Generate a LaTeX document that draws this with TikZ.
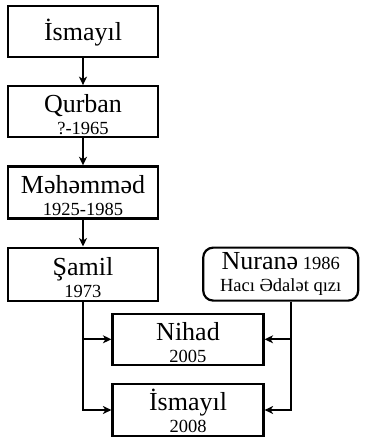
\documentclass[tikz,border=0pt]{standalone}
\usepackage{fontspec}
\setmainfont{Liberation Serif}
\usetikzlibrary{arrows.meta,positioning}

\newcommand{\pname}[1]{{\fontsize{26}{22}\selectfont\rule{0pt}{24pt}#1}}
\newcommand{\pdate}[1]{{\fontsize{18.5}{22}\selectfont #1}}

\begin{document}
\begin{tikzpicture}[
    x=1pt, y=1pt,
    node distance=27pt,
    font=\fontsize{18.5}{22}\selectfont,
    person/.style={rectangle, draw, line width=2.2pt, minimum width=150pt, minimum height=51pt, align=center, inner sep=1pt},
    spouse/.style={person, rounded corners=10pt, minimum width=155pt},
    arrow/.style={line width=2pt, -{Stealth[length=8.5pt,width=8pt,inset=2.5pt]}}
]
\useasboundingbox (0,0) rectangle (367,-440);

% Nodes
\node[person] (ismayil) at (83,-31.5) {\pname{İsmayıl}};

\node[person, below=of ismayil] (qurban) {\pname{Qurban}\\ \pdate{?-1965}};

\node[person, below=of qurban, minimum height=52pt] (mehemmed) {\pname{Məhəmməd}\\ \pdate{1925-1985}};

\node[person, below=of mehemmed, minimum height=53pt] (samil) {\pname{Şamil}\\ \pdate{1973}};

\node[spouse, right=43pt of samil, minimum height=53pt] (nurane) {{\fontsize{26}{22}\selectfont Nuranə} \pdate{1986}\\ \pdate{Hacı Ədalət qızı}};

\node[person, below=11pt of samil, xshift=105pt, minimum width=151pt] (nihad) {\pname{Nihad}\\ \pdate{2005}};

\node[person, below=17pt of nihad, minimum width=151pt, minimum height=52pt] (ismayil2) {\pname{İsmayıl}\\ \pdate{2008}};

% Connectors
\draw[arrow] (ismayil) -- (qurban);
\draw[arrow] (qurban) -- (mehemmed);
\draw[arrow] (mehemmed) -- (samil);
\draw[arrow] (samil.south) |- (nihad.west);
\draw[arrow] (samil.south) |- (ismayil2.west);
\draw[arrow] ([xshift=10pt]nurane.south) |- (nihad.east);
\draw[arrow] ([xshift=10pt]nurane.south) |- (ismayil2.east);

\end{tikzpicture}
\end{document}
